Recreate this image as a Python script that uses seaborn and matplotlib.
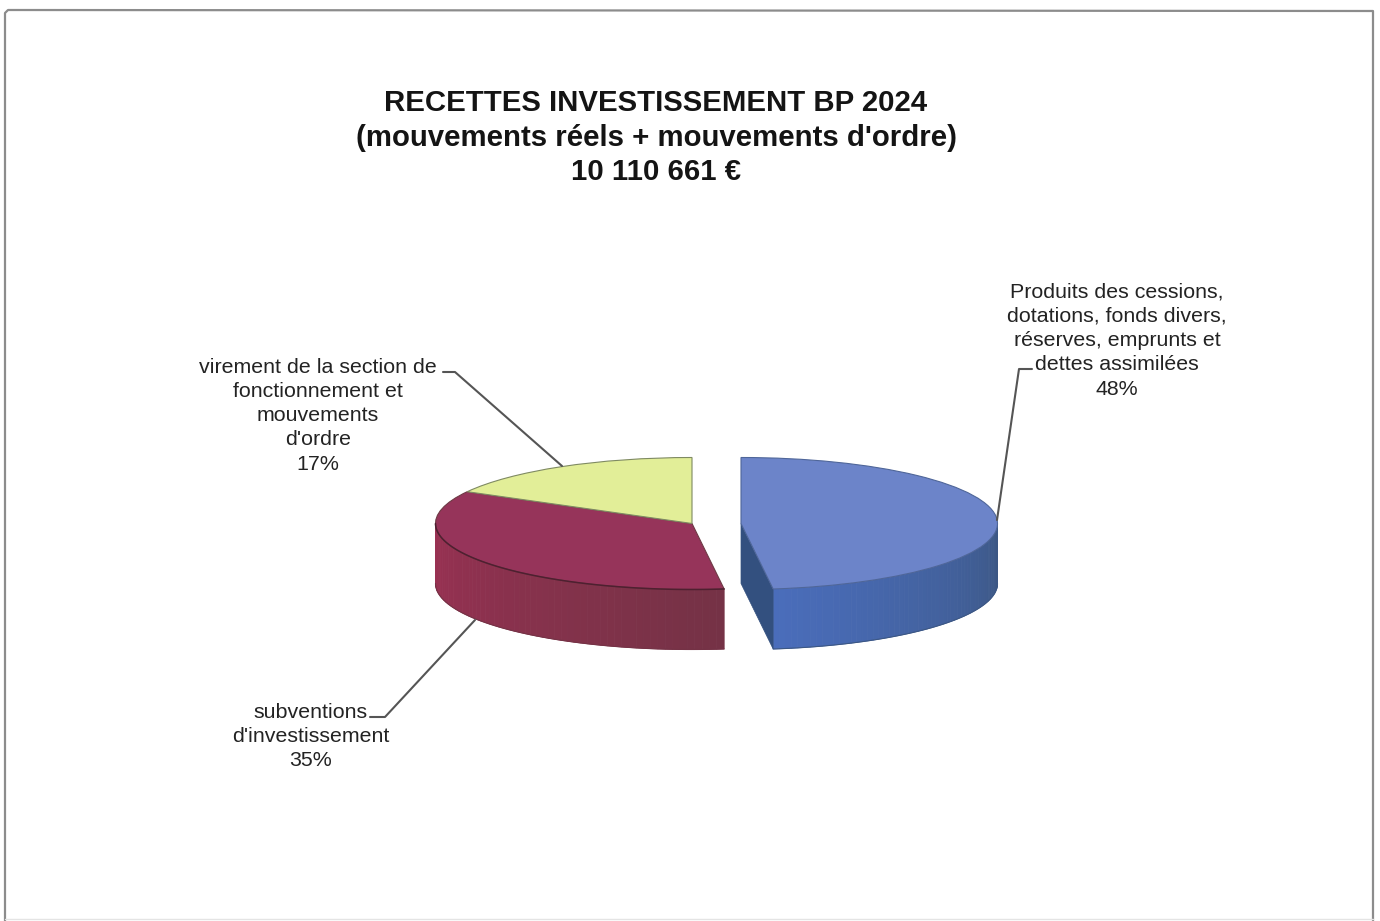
import numpy as np
import matplotlib
matplotlib.use("Agg")
import matplotlib.pyplot as plt
from matplotlib.transforms import Affine2D
import seaborn as sns

# Budget shares, clockwise from twelve o'clock
categories = [
    "Produits des cessions,\ndotations, fonds divers,\nréserves, emprunts et\ndettes assimilées",
    "subventions\nd'investissement",
    "virement de la section de\nfonctionnement et\nmouvements\nd'ordre",
]
shares = [48, 35, 17]
title_lines = [
    "RECETTES INVESTISSEMENT BP 2024",
    "(mouvements réels + mouvements d'ordre)",
    "10 110 661 €",
]
top_colors = ["#6C84C9", "#96345A", "#E2EE98"]
edge_colors = ["#4F6699", "#6E3A45", "#7F8A62"]
side_colors = [("#4A6DBB", "#3C5784"), ("#9A3153", "#753246"), ("#C5CF80", "#A8B06A")]

sns.set_theme(style="white")
plt.rcParams["font.family"] = ["Liberation Sans", "DejaVu Sans"]

W, H = 1380, 921
fig = plt.figure(figsize=(W / 100, H / 100), dpi=100, facecolor="white")
ax = fig.add_axes([0, 0, 1, 1])
page = Affine2D().scale(1 / W, -1 / H).translate(0, 1) + fig.transFigure

# Projection of the tilted disc: one pie radius on each axis, in pixels
RX, RY, DEPTH = 256.5, 66.0, 60.0
AXIS_X, AXIS_Y = 716.5, 523.5
GAP = 24.5 / RX
drop = DEPTH / RY
fractions = np.array(shares) / 100
edges = np.concatenate([[0], np.cumsum(fractions) * 360])
centers = [GAP, -GAP, -GAP]


def rim(center, t):
    rad = np.radians(t)
    return center + np.sin(rad), np.cos(rad)


def side_wall(i, t_from, t_to):
    """Shaded outer wall of a slice, split in thin strips between two angles."""
    angles = np.linspace(t_from, t_to, 60)
    shades = sns.blend_palette(list(side_colors[i]), len(angles) - 1)
    for a, b, c in zip(angles[:-1], angles[1:], shades):
        xa, ya = rim(centers[i], a)
        xb, yb = rim(centers[i], b)
        ax.fill([xa, xb, xb, xa], [ya, yb, yb - drop, ya - drop], color=c, lw=0.6, zorder=1)
    xs, ys = rim(centers[i], np.linspace(t_from, t_to, 80))
    ax.plot(xs, ys - drop, color=side_colors[i][1], lw=0.8, zorder=2)


# Outer walls facing the viewer
side_wall(0, edges[1], 90)
side_wall(1, 270, edges[1])

# Cut face of the detached slice
xe, ye = rim(centers[0], edges[1])
ax.fill([centers[0], xe, xe, centers[0]], [0, ye, ye - drop, -drop],
        color="#33507F", lw=0.5, zorder=2)

# Top surfaces, as true pies stretched by the axes scale
blue, _ = ax.pie([fractions[0]], normalize=False, center=(centers[0], 0), startangle=90,
                 counterclock=False, colors=[top_colors[0]],
                 wedgeprops=dict(linewidth=0.8, zorder=3))
rest, _ = ax.pie(fractions[1:], normalize=False, center=(centers[1], 0),
                 startangle=90 - edges[1], counterclock=False, colors=top_colors[1:],
                 wedgeprops=dict(linewidth=0.8, zorder=3))
for wedge, edge in zip(list(blue) + list(rest), edge_colors):
    wedge.set_edgecolor(edge)

# Darker rim along the front of the red slice
xs, ys = rim(centers[1], np.linspace(edges[1], 270, 80))
ax.plot(xs, ys, color="#4E2030", lw=1.1, zorder=4)

ax.set_aspect("auto")
ax.set_xlim((0 - AXIS_X) / RX, (W - AXIS_X) / RX)
ax.set_ylim((AXIS_Y - H) / RY, AXIS_Y / RY)
ax.axis("off")

# Page frame
ax.plot([5, 5, 8, 1373, 1373], [921, 13, 10, 11, 921], color="#8C8C8C", lw=1.6,
        transform=page, clip_on=False, zorder=5)
ax.plot([5, 1373], [919, 919], color="#E4E4E4", lw=1.0, transform=page, zorder=5)

# Title
for line, y in zip(title_lines, [103, 138, 172]):
    ax.text(656, y, line, transform=page, ha="center", va="center", fontsize=21.2,
            fontweight="bold", color="#141414")

# Slice labels with their percentages
label_spots = [(1117, 340.5), (311, 736.5), (318, 415.5)]
for cat, share, (x, y) in zip(categories, shares, label_spots):
    ax.text(x, y, f"{cat}\n{share}%", transform=page, ha="center", va="center",
            fontsize=15.4, color="#232323", linespacing=1.35)

# Leader lines
leaders = [
    ([1032, 1019, 997], [369, 369, 520]),
    ([370, 385, 475], [717, 717, 620]),
    ([443, 455, 562], [372, 372, 466]),
]
for xs, ys in leaders:
    ax.plot(xs, ys, color="#555555", lw=1.5, transform=page, zorder=6)

fig.savefig("out.png", dpi=100, facecolor="white")
